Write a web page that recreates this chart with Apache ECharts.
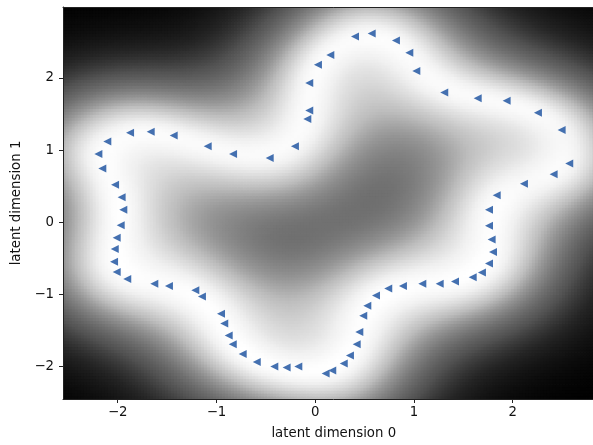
<!DOCTYPE html>
<html>
<head>
<meta charset="utf-8">
<script src="https://cdn.jsdelivr.net/npm/echarts@6/dist/echarts.min.js"></script>
<style>
  html, body { margin: 0; padding: 0; background: #fff; overflow: hidden; }
  #chart { width: 620px; height: 445px; }
</style>
</head>
<body>
<div id="chart"></div>
<script>
// Latent positions of the training points (dimension 0 and dimension 1)
const latent0 = [
  0.403, 0.572, 0.818, 0.953, 1.024, 1.307, 1.646, 1.939, 2.256, 2.496,
  2.573, 2.415, 2.114, 1.838, 1.760, 1.760, 1.787, 1.801, 1.760, 1.689,
  1.595, 1.416, 1.261, 1.085, 0.889, 0.740, 0.616, 0.528, 0.487, 0.447,
  0.420, 0.352, 0.289, 0.173, 0.106, -0.171, -0.289, -0.414, -0.592, -0.734,
  -0.835, -0.876, -0.921, -0.954, -1.147, -1.214, -1.481, -1.629, -1.903, -2.010,
  -2.037, -2.030, -2.010, -1.970, -1.943, -1.960, -2.027, -2.156, -2.196, -2.105,
  -1.875, -1.666, -1.433, -1.089, -0.832, -0.461, -0.205, -0.080, -0.060, -0.060,
  0.028, 0.153
];
const latent1 = [
  2.574, 2.615, 2.519, 2.349, 2.097, 1.797, 1.719, 1.683, 1.517, 1.277,
  0.814, 0.666, 0.532, 0.372, 0.174, -0.051, -0.240, -0.414, -0.571, -0.696,
  -0.764, -0.823, -0.855, -0.855, -0.883, -0.920, -1.017, -1.159, -1.297, -1.523,
  -1.692, -1.848, -1.959, -2.055, -2.097, -2.000, -2.014, -2.000, -1.937, -1.826,
  -1.692, -1.572, -1.403, -1.269, -1.030, -0.943, -0.883, -0.852, -0.786, -0.690,
  -0.548, -0.372, -0.217, -0.041, 0.174, 0.345, 0.519, 0.745, 0.946, 1.117,
  1.241, 1.255, 1.200, 1.052, 0.946, 0.891, 1.052, 1.429, 1.549, 1.931,
  2.183, 2.317
];
const tickValues = [-2, -1, 0, 1, 2];
const xRange = [-2.554, 2.93];
const yRange = [-2.451, 2.983];

// Background: log predictive variance of an RBF-kernel GP fitted on the latent points
const lengthscale = 0.95;
const noiseVar = 0.01;
function rbf(ax, ay, bx, by) {
  const dx = ax - bx, dy = ay - by;
  return Math.exp(-(dx * dx + dy * dy) / (2 * lengthscale * lengthscale));
}
const n = latent0.length;
const L = [];
for (let i = 0; i < n; i++) L.push(new Float64Array(n));
for (let i = 0; i < n; i++) {
  for (let j = 0; j <= i; j++) {
    let s = rbf(latent0[i], latent1[i], latent0[j], latent1[j]) + (i === j ? noiseVar : 0);
    for (let k = 0; k < j; k++) s -= L[i][k] * L[j][k];
    if (i === j) L[i][i] = Math.sqrt(s);
    else L[i][j] = s / L[j][j];
  }
}
function logPredVar(x, y) {
  const v = new Float64Array(n);
  let acc = 0;
  for (let i = 0; i < n; i++) {
    let s = rbf(x, y, latent0[i], latent1[i]);
    const Li = L[i];
    for (let k = 0; k < i; k++) s -= Li[k] * v[k];
    v[i] = s / Li[i];
    acc += v[i] * v[i];
  }
  return Math.log(Math.max(1e-9, 1 - acc) + noiseVar);
}

const nx = 180, ny = 135;
const dxCell = (xRange[1] - xRange[0]) / nx;
const dyCell = (yRange[1] - yRange[0]) / ny;
const cells = [];
let vMin = Infinity, vMax = -Infinity;
for (let j = 0; j < ny; j++) {
  for (let i = 0; i < nx; i++) {
    const x0 = xRange[0] + i * dxCell, y0 = yRange[0] + j * dyCell;
    const v = logPredVar(x0 + dxCell / 2, y0 + dyCell / 2);
    if (v < vMin) vMin = v;
    if (v > vMax) vMax = v;
    cells.push([x0, y0, x0 + dxCell, y0 + dyCell, v]);
  }
}
for (const c of cells) c[4] = (c[4] - vMin) / (vMax - vMin);

// 'Greys' colour ramp (white → black)
const greyStops = [255, 240, 217, 189, 150, 115, 82, 37, 0];
function greysColor(t) {
  t = Math.min(1, Math.max(0, t)) * 8;
  const i = Math.min(7, Math.floor(t)), f = t - i;
  const g = Math.round(greyStops[i] + (greyStops[i + 1] - greyStops[i]) * f);
  return 'rgb(' + g + ',' + g + ',' + g + ')';
}
const minus = v => String(v).replace('-', '\u2212');
const font = 'DejaVu Sans';

const chart = echarts.init(document.getElementById('chart'), null, { renderer: 'canvas' });
chart.setOption({
  animation: false,
  backgroundColor: '#fff',
  grid: { left: 63, top: 7, right: 15.5, bottom: 44 },
  xAxis: [{
    type: 'value', min: xRange[0], max: xRange[1], z: 10,
    name: 'latent dimension 0', nameLocation: 'middle', nameGap: 28,
    nameTextStyle: { fontFamily: font, fontSize: 13.3, color: '#111' },
    axisLine: { show: true, onZero: false, lineStyle: { color: '#222', width: 1 } },
    axisTick: { show: true, inside: false, length: 4, customValues: tickValues, lineStyle: { color: '#222' } },
    axisLabel: { customValues: tickValues, formatter: minus, margin: 7, fontFamily: font, fontSize: 13.3, color: '#111' },
    splitLine: { show: false }
  }, {
    type: 'value', min: xRange[0], max: xRange[1], position: 'top', z: 10,
    axisLine: { show: true, onZero: false, lineStyle: { color: '#222', width: 1 } },
    axisTick: { show: false }, axisLabel: { show: false }, splitLine: { show: false }
  }],
  yAxis: [{
    type: 'value', min: yRange[0], max: yRange[1], z: 10,
    name: 'latent dimension 1', nameLocation: 'middle', nameGap: 30, nameRotate: 90,
    nameTextStyle: { fontFamily: font, fontSize: 13.3, color: '#111' },
    axisLine: { show: true, onZero: false, lineStyle: { color: '#222', width: 1 } },
    axisTick: { show: true, inside: false, length: 4, customValues: tickValues, lineStyle: { color: '#222' } },
    axisLabel: { customValues: tickValues, formatter: minus, margin: 9, fontFamily: font, fontSize: 13.3, color: '#111' },
    splitLine: { show: false }
  }],
  series: [{
    type: 'custom',
    name: 'log variance',
    coordinateSystem: 'cartesian2d',
    xAxisIndex: 0, yAxisIndex: 0,
    clip: true,
    silent: true,
    progressive: 0,
    encode: { x: [0, 2], y: [1, 3] },
    data: cells,
    renderItem: function (params, api) {
      const p0 = api.coord([api.value(0), api.value(3)]);
      const p1 = api.coord([api.value(2), api.value(1)]);
      return {
        type: 'rect',
        shape: { x: p0[0] - 0.4, y: p0[1] - 0.4, width: p1[0] - p0[0] + 0.8, height: p1[1] - p0[1] + 0.8 },
        style: { fill: greysColor(api.value(4)) }
      };
    },
    z: 1
  }, {
    type: 'scatter',
    name: 'latent points',
    xAxisIndex: 0, yAxisIndex: 0,
    data: latent0.map((x, i) => [x, latent1[i]]),
    symbol: 'triangle',
    symbolRotate: 90,
    symbolSize: 8,
    itemStyle: { color: '#4470b0', opacity: 1 },
    z: 5
  }]
});
</script>
</body>
</html>
